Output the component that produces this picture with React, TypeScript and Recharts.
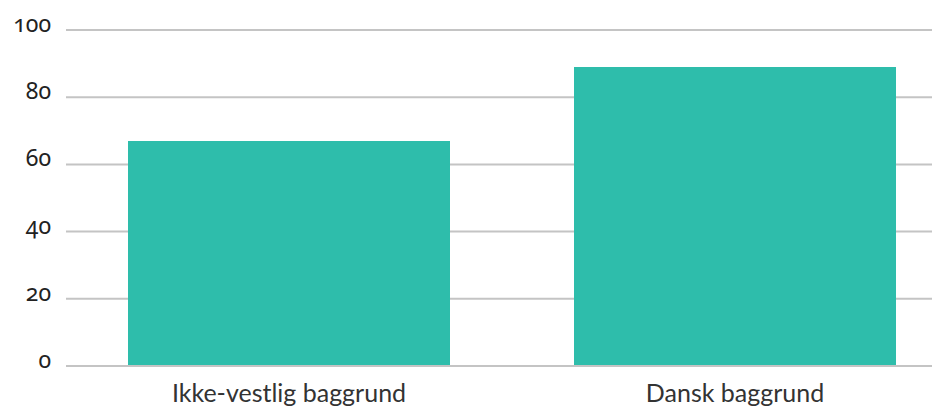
import { Bar, BarChart, CartesianGrid, XAxis, YAxis } from 'recharts';

const categories = ['Ikke-vestlig baggrund', 'Dansk baggrund'];
const values = [67, 89];
const yTicks = [0, 20, 40, 60, 80, 100];

const data = categories.map((name, i) => ({ name, value: values[i] }));

function YTick(props: any) {
  const { x, y, payload } = props;
  return (
    <text
      x={x}
      y={y + 2}
      textAnchor="end"
      fill="#222"
      fontSize={23}
      fontFamily="Noto Sans"
      style={{ fontFeatureSettings: '"onum"' }}
    >
      {payload.value}
    </text>
  );
}

function XTick(props: any) {
  const { x, y, payload } = props;
  return (
    <text x={x} y={y + 36} textAnchor="middle" fill="#333" fontSize={25} fontFamily="Lato">
      {payload.value}
    </text>
  );
}

export default function App() {
  return (
    <div style={{ position: 'absolute', top: 0, left: 0, width: 932, height: 409, overflow: 'hidden', background: '#fff' }}>
      <BarChart width={958} height={409} data={data} margin={{ top: 30, right: 0, bottom: 0, left: 0 }}>
        <CartesianGrid vertical={false} stroke="#c4c4c4" strokeWidth={2} />
        <XAxis
          dataKey="name"
          height={43}
          tickLine={false}
          tickSize={0}
          tickMargin={0}
          axisLine={{ stroke: '#c4c4c4', strokeWidth: 2 }}
          tick={<XTick />}
          interval={0}
        />
        <YAxis
          width={66}
          domain={[0, 100]}
          ticks={yTicks}
          axisLine={false}
          tickLine={false}
          tickSize={0}
          tickMargin={15}
          tick={<YTick />}
        />
        <Bar dataKey="value" fill="#2ebdab" barSize={322} isAnimationActive={false} />
      </BarChart>
    </div>
  );
}
